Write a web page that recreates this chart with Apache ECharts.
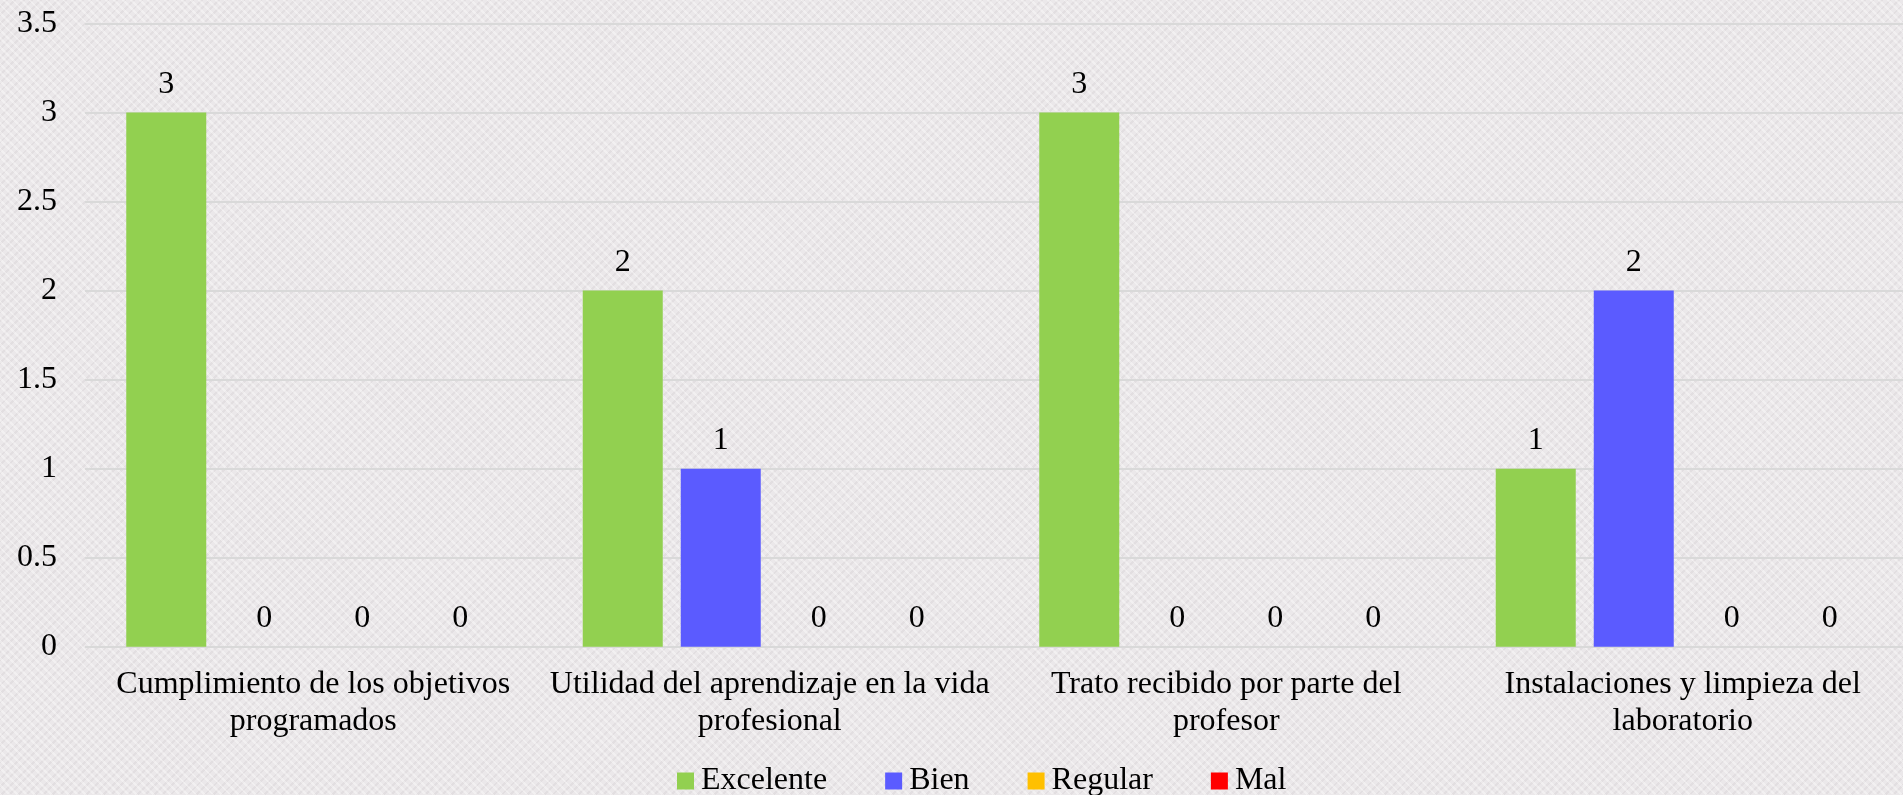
<!DOCTYPE html>
<html>
<head>
<meta charset="utf-8">
<script src="https://cdn.jsdelivr.net/npm/echarts@6/dist/echarts.min.js"></script>
<style>
  html, body { margin: 0; padding: 0; }
  body {
    width: 1903px; height: 795px; overflow: hidden;
    background-color: #ebe8ea;
    background-image:
      repeating-linear-gradient(45deg, rgba(255,255,255,0.35) 0 2px, rgba(0,0,0,0) 2px 6px),
      repeating-linear-gradient(-45deg, rgba(210,205,208,0.35) 0 2px, rgba(0,0,0,0) 2px 6px);
  }
  /* plot area runs slightly past the right edge of the window */
  #chart { width: 1911px; height: 795px; }
</style>
</head>
<body>
<div id="chart"></div>
<script>
// Survey results per aspect
const categories = [
  'Cumplimiento de los objetivos\nprogramados',
  'Utilidad del aprendizaje en la vida\nprofesional',
  'Trato recibido por parte del\nprofesor',
  'Instalaciones y limpieza del\nlaboratorio'
];
const seriesNames = ['Excelente', 'Bien', 'Regular', 'Mal'];
const excelente = [3, 2, 3, 1];
const bien = [0, 1, 0, 2];
const regular = [0, 0, 0, 0];
const mal = [0, 0, 0, 0];
const seriesColors = ['#92d050', '#5b5bff', '#ffc000', '#ff0000'];

const FONT = '"Liberation Serif", "Times New Roman", serif';
const values = [excelente, bien, regular, mal];

const chart = echarts.init(document.getElementById('chart'), null, { renderer: 'canvas' });

chart.setOption({
  backgroundColor: 'transparent',
  animation: false,
  textStyle: { fontFamily: FONT, color: '#000' },
  grid: { left: 85, right: 0, top: 23.5, bottom: 148.3, containLabel: false },
  legend: {
    data: seriesNames,
    left: 672,
    top: 760,
    itemWidth: 17,
    itemHeight: 17,
    itemGap: 58,
    icon: 'rect',
    textStyle: { fontFamily: FONT, fontSize: 32, color: '#000', padding: [0, 0, 0, 2] }
  },
  xAxis: {
    type: 'category',
    data: categories,
    axisLine: { show: false },
    axisTick: { show: false },
    axisLabel: {
      interval: 0,
      margin: 19,
      fontFamily: FONT,
      fontSize: 32,
      lineHeight: 37,
      color: '#000'
    }
  },
  yAxis: {
    type: 'value',
    min: 0,
    max: 3.5,
    interval: 0.5,
    axisLine: { show: false },
    axisTick: { show: false },
    splitLine: { lineStyle: { color: '#d9d9d9', width: 2 } },
    axisLabel: { margin: 28, fontFamily: FONT, fontSize: 32, color: '#000' }
  },
  series: seriesNames.map((name, i) => ({
    name: name,
    type: 'bar',
    data: values[i],
    barWidth: 80,
    barGap: '22.5%',
    itemStyle: { color: seriesColors[i] },
    label: {
      show: true,
      position: 'top',
      distance: 12,
      fontFamily: FONT,
      fontSize: 32,
      color: '#000'
    }
  }))
});
</script>
</body>
</html>
